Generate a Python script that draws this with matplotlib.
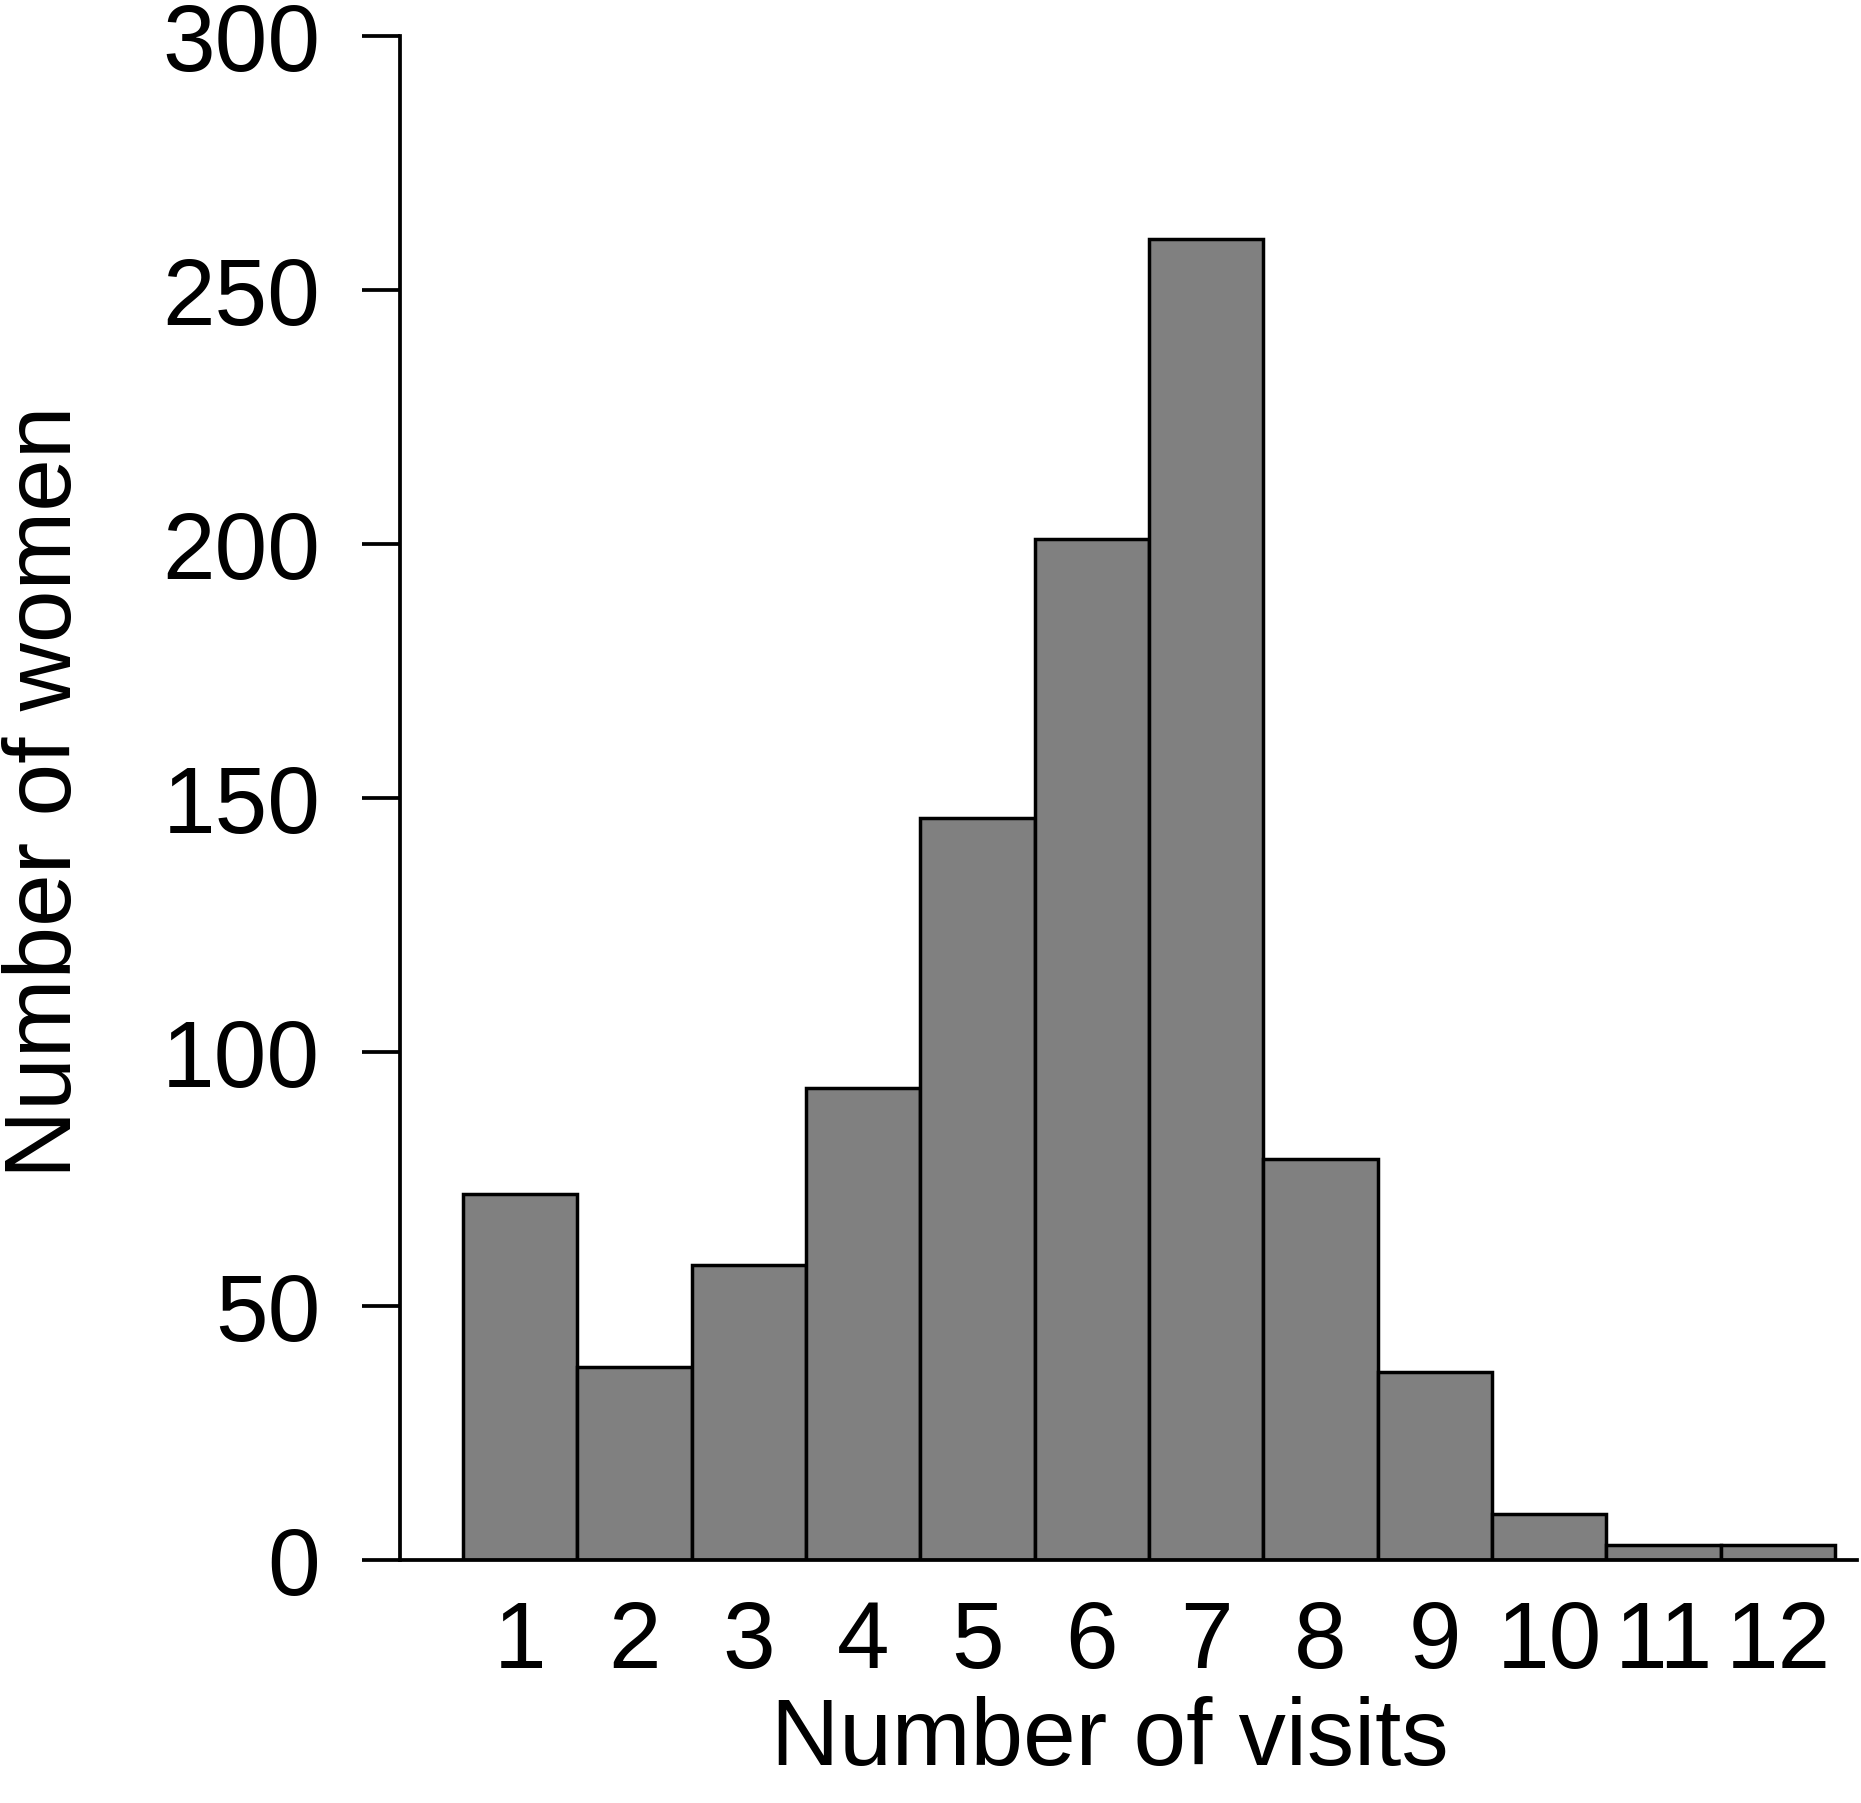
import matplotlib
matplotlib.use("Agg")
import matplotlib.pyplot as plt

plt.rcParams['font.family'] = ['Liberation Sans', 'DejaVu Sans']

# data
visits = [1, 2, 3, 4, 5, 6, 7, 8, 9, 10, 11, 12]
women = [72, 38, 58, 93, 146, 201, 260, 79, 37, 9, 3, 3]
yticks = [0, 50, 100, 150, 200, 250, 300]

W, H = 1861, 1803
fig = plt.figure(figsize=(W / 100, H / 100), dpi=100)

# axes placed in pixels: left spine at x=400, y=0 at 1560, y=300 at 36
ax = fig.add_axes([400 / W, 1 - 1560 / H, 1457 / W, 1524 / H])

ax.bar(visits, women, width=1.0, color="#808080", edgecolor="black", linewidth=2.5)

ax.set_ylim(0, 300)
ax.set_xlim(0.5 - 63 / 114.33, 12.5 + 22 / 114.33)

ax.spines['top'].set_visible(False)
ax.spines['right'].set_visible(False)
ax.spines['left'].set_linewidth(2.7)
ax.spines['bottom'].set_linewidth(2.7)

ax.set_yticks(yticks)
ax.set_xticks(visits)
ax.tick_params(axis='y', length=27.4, width=2.7, pad=30, labelsize=68)
ax.tick_params(axis='x', length=0, pad=28, labelsize=68)

fig.text(47 / W, 1 - 792 / H, "Number of women", rotation=90,
         ha='center', va='center', fontsize=68)
fig.text(1110 / W, 1 - 1765 / H, "Number of visits",
         ha='center', va='baseline', fontsize=68)

fig.savefig("out.png", dpi=100)
